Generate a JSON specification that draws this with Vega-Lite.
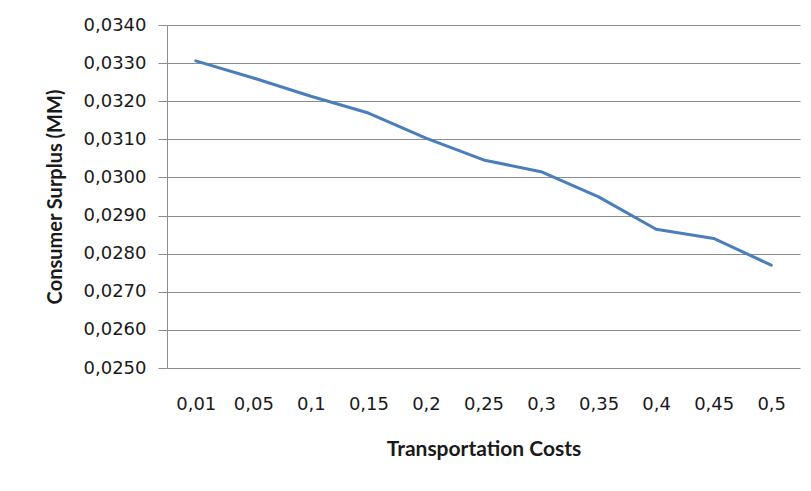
{
  "$schema": "https://vega.github.io/schema/vega-lite/v6.json",
  "width": 633,
  "height": 343,
  "autosize": {"type": "none"},
  "padding": {"left": 167, "top": 25, "right": 11, "bottom": 123},
  "background": "white",
  "data": {
    "values": [
      {"cost": "0,01", "surplus": 0.03306},
      {"cost": "0,05", "surplus": 0.03261},
      {"cost": "0,1", "surplus": 0.03213},
      {"cost": "0,15", "surplus": 0.03169},
      {"cost": "0,2", "surplus": 0.03103},
      {"cost": "0,25", "surplus": 0.03046},
      {"cost": "0,3", "surplus": 0.03015},
      {"cost": "0,35", "surplus": 0.02949},
      {"cost": "0,4", "surplus": 0.02864},
      {"cost": "0,45", "surplus": 0.02840},
      {"cost": "0,5", "surplus": 0.02770}
    ]
  },
  "mark": {"type": "line", "color": "#4a7ebb", "strokeWidth": 3, "strokeCap": "round", "strokeJoin": "round"},
  "encoding": {
    "x": {
      "field": "cost",
      "type": "ordinal",
      "sort": null,
      "scale": {"type": "point", "padding": 0.5},
      "axis": {
        "title": "Transportation Costs",
        "labelAngle": 0,
        "ticks": false,
        "domain": false,
        "labelPadding": 27,
        "titlePadding": 25,
        "labelFontSize": 18,
        "titleFontSize": 21
      }
    },
    "y": {
      "field": "surplus",
      "type": "quantitative",
      "scale": {"domain": [0.025, 0.034], "nice": false, "zero": false},
      "axis": {
        "title": "Consumer Surplus (MM)",
        "values": [0.025, 0.026, 0.027, 0.028, 0.029, 0.030, 0.031, 0.032, 0.033, 0.034],
        "labelExpr": "replace(format(datum.value, '.4f'), '.', ',')",
        "tickSize": 9,
        "labelPadding": 12,
        "titlePadding": 18,
        "labelFontSize": 18,
        "titleFontSize": 20
      }
    }
  },
  "config": {
    "view": {"stroke": null},
    "axis": {
      "labelFont": "DejaVu Sans",
      "titleFont": "Lato",
      "labelColor": "#1a1a1a",
      "titleColor": "#1a1a1a",
      "titleFontWeight": "bold",
      "gridColor": "#8c8c8c",
      "gridWidth": 1,
      "gridOpacity": 1,
      "domainColor": "#8c8c8c",
      "tickColor": "#8c8c8c"
    }
  }
}
